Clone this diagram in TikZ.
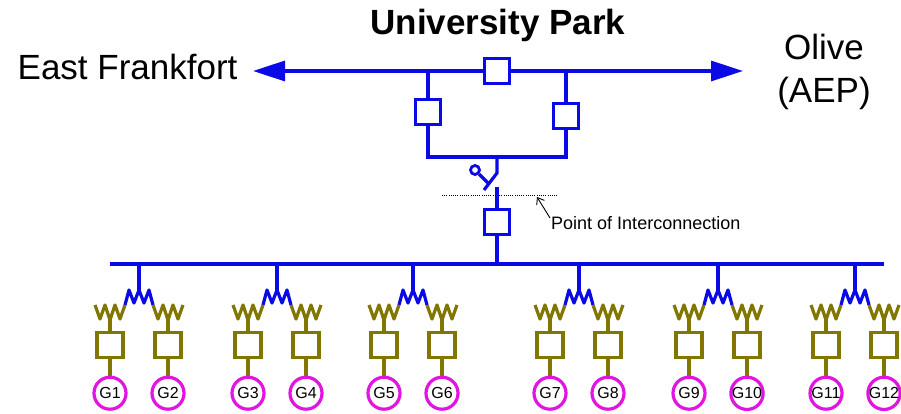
\documentclass[tikz,border=0pt]{standalone}
\usepackage{xcolor}
\usepackage{fontspec}
\setmainfont{Liberation Sans}
\usetikzlibrary{positioning,calc,arrows.meta}

\definecolor{busblue}{RGB}{10,10,230}
\definecolor{genolive}{RGB}{128,118,0}
\definecolor{genpink}{RGB}{225,20,225}

\begin{document}
\begin{tikzpicture}[
    x=1pt, y=-1pt,
    wire/.style={draw=busblue, line width=3.2pt},
    gwire/.style={draw=genolive, line width=3.2pt},
    brk/.style={rectangle, draw=busblue, line width=3.2pt, fill=white, minimum size=25pt, inner sep=0pt},
    gbox/.style={rectangle, draw=genolive, line width=3.2pt, fill=white, minimum width=26pt, minimum height=25pt, inner sep=0pt},
    gen/.style={circle, draw=genpink, line width=3.2pt, minimum size=32pt, inner sep=0pt, font=\fontsize{16}{16}\selectfont},
    big/.style={font=\fontsize{35}{43}\selectfont}
]
    \useasboundingbox (0,0) rectangle (901,414);

    % station names
    \node[big, anchor=base] (UP) at (498,35) {\textbf{University Park}};
    \node[big, anchor=base east] (EF) at (241,80) {East Frankfort};
    \node[big, align=center, anchor=base] (OL) at (824,103) {Olive\\(AEP)};

    % 138 kV ring
    \coordinate (WL) at (253,71);
    \coordinate (WR) at (743,71);
    \coordinate (JL) at (428,71);
    \coordinate (JR) at (566,71);
    \coordinate (KL) at (428,157);
    \coordinate (KR) at (566,157);
    \coordinate (KM) at (497,157);
    \node[brk] (BT) at (497,71) {};
    \node[brk] (BL) at (428,112) {};
    \node[brk] (BR) at (566,116) {};
    \draw[wire, -{Triangle[length=32pt,width=20pt]}] (BT) -- (WL);
    \draw[wire, -{Triangle[length=32pt,width=20pt]}] (BT) -- (WR);
    \draw[wire] (JL) -- (BL) -- (KL) -- (KR) -- (BR) -- (JR);

    % disconnect switch and POI breaker
    \coordinate (SA) at (497,173);
    \coordinate (SB) at (484,190);
    \coordinate (SE) at (489,184);
    \coordinate (SC) at (497,187);
    \node[circle, draw=busblue, line width=2.8pt, minimum size=9pt, inner sep=0pt] (SP) at (475,170) {};
    \draw[wire] (KM) -- (SA) -- (SB);
    \draw[wire] (SP) -- (SE);
    \node[brk] (BP) at (497,222) {};
    \coordinate (JP) at (497,264);
    \draw[wire] (SC) -- (BP) -- (JP);

    % point of interconnection
    \coordinate (PA) at (442,195);
    \coordinate (PB) at (558,195);
    \coordinate (PT) at (537,197);
    \draw[dash pattern=on 1pt off 1.2pt, line width=0.9pt] (PA) -- (PB);
    \node[font=\fontsize{18}{20}\selectfont, anchor=west, inner sep=1pt] (POI) at (550,223) {Point of Interconnection};
    \draw[line width=0.9pt, -{Straight Barb[length=6pt,width=9pt]}] ([yshift=5pt]POI.west) -- (PT);

    % collector bus
    \coordinate (CL) at (110,264);
    \coordinate (CR) at (884,264);
    \draw[wire] (CL) -- (CR);

    % transformers and generators
    \foreach \t [count=\k] in {139,277,413,579,718,855}{
        \pgfmathtruncatemacro{\a}{2*\k-1}
        \pgfmathtruncatemacro{\b}{2*\k}
        \coordinate (T\k) at (\t,264);
        \coordinate (M\k) at (\t,290);
        \draw[wire] (T\k) -- (M\k);
        \draw[wire, line join=round] (\t-14,305) -- (\t-10,290) -- (\t-5,303) -- (M\k) -- (\t+5,303) -- (\t+10,290) -- (\t+14,305);
        \foreach \g/\n in {-29/\a, 29/\b}{
            \draw[gwire, line join=round] (\t+\g-15,305) -- (\t+\g-10,319) -- (\t+\g-5,305) -- (\t+\g,320) coordinate (V\n) -- (\t+\g+5,305) -- (\t+\g+10,319) -- (\t+\g+15,305);
            \node[gbox] (GB\n) at (\t+\g,345) {};
            \node[gen, below=16.5pt of GB\n] (G\n) {G\n};
            \draw[gwire] (V\n) -- (GB\n) -- (G\n);
        }
    }
\end{tikzpicture}
\end{document}
